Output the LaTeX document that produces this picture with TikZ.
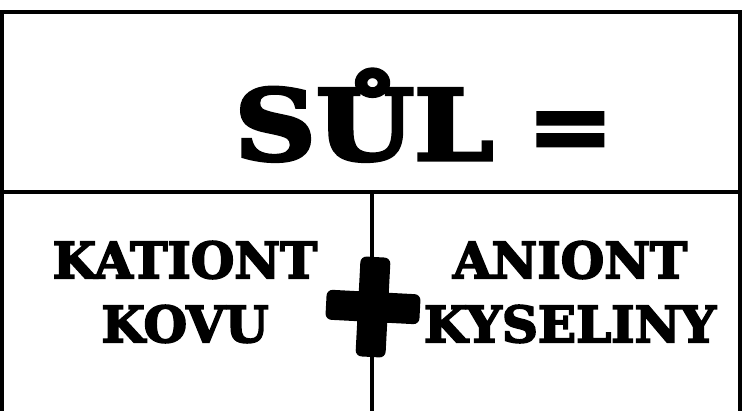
\documentclass[tikz,border=0pt]{standalone}
\usepackage{fontspec}
\usepackage{tikz}
\usetikzlibrary{positioning}
\newfontfamily\heavyfont[FakeBold=3.5]{DejaVu Serif Bold}

\tikzset{
  ramec/.style={line width=3.5pt},
  nadpis/.style={font=\heavyfont\fontsize{98}{98}\selectfont, inner sep=0pt},
  bunka/.style={font=\heavyfont\fontsize{50}{64}\selectfont, align=center, inner sep=0pt}
}

\begin{document}
\begin{tikzpicture}[x=1pt, y=-1pt]
  \useasboundingbox (0,0) rectangle (742,411);

  % Tabulka
  \draw[ramec] (2,420) -- (2,12) -- (740,12) -- (740,420);
  \draw[ramec] (2,192) -- (740,192);
  \draw[ramec] (372,192) -- (372,420);

  % Horni radek
  \node[nadpis, anchor=base, xscale=1.15] (sul) at (364,160) {SŮL};
  \node[nadpis, anchor=base west, xscale=1.05] (rovno) at (527,160) {=};

  % Dolni radek
  \node[bunka] (kation) at (185,292) {KATIONT\\KOVU};
  \node[bunka] (anion) at (570,292) {ANIONT\\KYSELINY};

  % Plus
  \begin{scope}[shift={(373,307)}, rotate=-3]
    \fill[rounded corners=6pt] (-15,-50) rectangle (15,50);
    \fill[rounded corners=6pt] (-47,-15) rectangle (47,15);
  \end{scope}
  \coordinate (plus) at (373,307);
\end{tikzpicture}
\end{document}
